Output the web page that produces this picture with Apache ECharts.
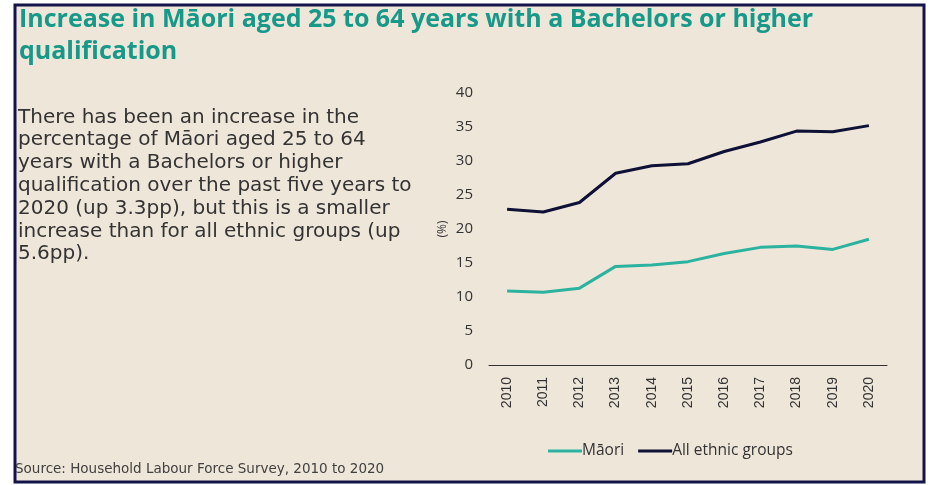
<!DOCTYPE html>
<html>
<head>
<meta charset="utf-8">
<script src="https://cdn.jsdelivr.net/npm/echarts@6/dist/echarts.min.js"></script>
<style>
  html, body { margin: 0; padding: 0; background: #ffffff; }
  #container { width: 937px; height: 485px; }
</style>
</head>
<body>
<div id="container"></div>
<script>
var years = ['2010', '2011', '2012', '2013', '2014', '2015', '2016', '2017', '2018', '2019', '2020'];
var maori = [10.9, 10.7, 11.3, 14.5, 14.7, 15.2, 16.4, 17.3, 17.5, 17.0, 18.5];
var allGroups = [22.9, 22.5, 23.9, 28.2, 29.3, 29.6, 31.4, 32.8, 34.4, 34.3, 35.2];
var seriesNames = ['Māori', 'All ethnic groups'];

var bodyText = 'There has been an increase in the\n' +
    'percentage of Māori aged 25 to 64\n' +
    'years with a Bachelors or higher\n' +
    'qualification over the past five years to\n' +
    '2020 (up 3.3pp), but this is a smaller\n' +
    'increase than for all ethnic groups (up\n' +
    '5.6pp).';

var chart = echarts.init(document.getElementById('container'));

var option = {
    backgroundColor: '#ffffff',
    animation: false,
    graphic: [
        {
            type: 'rect',
            shape: { x: 15, y: 5, width: 909, height: 477 },
            style: { fill: '#efe6da', stroke: '#14144a', lineWidth: 3 },
            z: -10
        },
        {
            type: 'text',
            left: 19,
            top: 4,
            style: {
                text: 'Increase in Māori aged 25 to 64 years with a Bachelors or higher\nqualification',
                fill: '#17998a',
                font: 'bold 25px "Open Sans"',
                lineHeight: 32
            }
        },
        {
            type: 'text',
            left: 18,
            top: 106,
            style: {
                text: bodyText,
                fill: '#333333',
                font: '20px "DejaVu Sans"',
                lineHeight: 22.8
            }
        },
        {
            type: 'text',
            left: 15,
            top: 462,
            style: {
                text: 'Source: Household Labour Force Survey, 2010 to 2020',
                fill: '#404040',
                font: '13.5px "DejaVu Sans"'
            }
        }
    ],
    legend: {
        data: seriesNames,
        left: 543,
        top: 438,
        itemWidth: 34,
        itemHeight: 3,
        itemGap: 14,
        icon: 'rect',
        textStyle: { color: '#333333', fontSize: 15.5, fontFamily: 'Open Sans', padding: [0, 0, 0, -5] }
    },
    grid: { left: 489, right: 50, top: 93, bottom: 120 },
    xAxis: {
        type: 'category',
        data: years,
        boundaryGap: true,
        axisLine: { lineStyle: { color: '#333333', width: 1 } },
        axisTick: { inside: true, length: 5, lineStyle: { color: '#333333' } },
        axisLabel: {
            rotate: 90,
            color: '#333333',
            fontSize: 14,
            fontFamily: 'Liberation Sans',
            margin: 12
        }
    },
    yAxis: {
        type: 'value',
        min: 0,
        max: 40,
        interval: 5,
        name: '(%)',
        nameLocation: 'middle',
        nameGap: 40,
        nameRotate: 90,
        nameTextStyle: { color: '#333333', fontSize: 12, fontFamily: 'Open Sans' },
        axisLine: { show: false },
        axisTick: { show: false },
        splitLine: { show: false },
        axisLabel: { color: '#333333', fontSize: 15, fontFamily: 'Open Sans', margin: 16 }
    },
    series: [
        {
            name: seriesNames[0],
            type: 'line',
            data: maori,
            symbol: 'none',
            lineStyle: { color: '#2bb3a0', width: 3 },
            itemStyle: { color: '#2bb3a0' }
        },
        {
            name: seriesNames[1],
            type: 'line',
            data: allGroups,
            symbol: 'none',
            lineStyle: { color: '#0e1035', width: 3 },
            itemStyle: { color: '#0e1035' }
        }
    ]
};

chart.setOption(option);
</script>
</body>
</html>
